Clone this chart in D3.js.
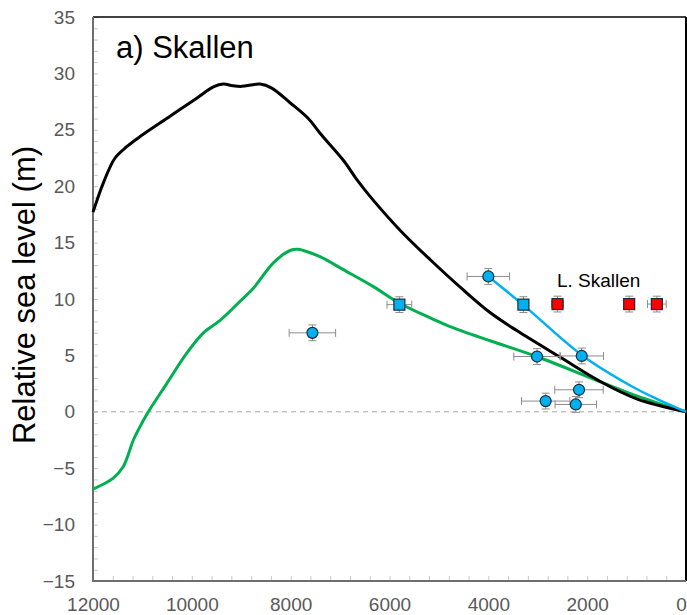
<!DOCTYPE html>
<html>
<head>
<meta charset="utf-8">
<script src="https://cdn.jsdelivr.net/npm/d3@7"></script>
<style>
    body { margin: 0; background: #fff; }
    svg { font-family: "Liberation Sans", Arial, sans-serif; }
</style>
</head>
<body>
<svg id="chart" width="687" height="615"></svg>
<script>
//Model curves (year BP, sea level m)
let blackYears = [12000, 11790, 11554, 11318, 11048, 10441, 9901, 9564, 9362, 9170, 8990, 8620, 8383, 8013, 7643, 7406, 6934, 6664, 6394, 5787, 5180, 4506, 3966, 3425, 2550, 1740, 998, 0];
let blackLevel = [17.7, 20.3, 22.5, 23.5, 24.4, 26.2, 27.8, 28.8, 29.05, 28.9, 28.85, 29.05, 28.7, 27.4, 26.0, 24.7, 22.3, 20.6, 19.1, 16.1, 13.5, 10.8, 8.8, 7.2, 4.85, 2.7, 1.15, 0];

let greenYears = [12000, 11596, 11392, 11183, 11082, 10880, 10508, 10103, 9766, 9429, 9024, 8755, 8350, 8013, 7845, 7744, 7406, 6934, 6327, 5787, 5113, 4775, 3966, 3021, 1740, 930, 0];
let greenLevel = [-6.85, -5.9, -4.9, -2.5, -1.6, 0, 2.5, 5.2, 7.0, 8.1, 9.8, 10.95, 13.2, 14.3, 14.4, 14.3, 13.75, 12.6, 11.1, 9.6, 8.2, 7.55, 6.3, 4.9, 2.67, 1.3, 0];

let blueYears = [4000, 3300, 2100, 1072, 593, 0];
let blueLevel = [12.0, 9.5, 5.0, 2.2, 1.15, 0];

//Observations: age, level, age error
let circleAge = [7560, 4000, 3015, 2110, 2165, 2840, 2230];
let circleLevel = [7.0, 12.0, 4.9, 4.95, 1.95, 0.95, 0.65];
let circleAgeErr = [470, 430, 470, 440, 490, 490, 420];

let blueSqAge = [5800, 3290];
let blueSqLevel = [9.5, 9.5];
let blueSqAgeErr = [250, 100];

let redSqAge = [2600, 1150, 590];
let redSqLevel = [9.55, 9.55, 9.55];
let redSqAgeErr = [120, 100, 190];

let levelErr = 0.7;

let xTicks = [12000, 10000, 8000, 6000, 4000, 2000, 0];
let yTicks = [35, 30, 25, 20, 15, 10, 5, 0, -5, -10, -15];

//Plot area
let plotLeft = 93, plotRight = 686, plotTop = 17, plotBottom = 581;
let svg = d3.select("#chart");

let x = d3.scaleLinear().domain([12000, 0]).range([plotLeft, plotRight]);
let y = d3.scaleLinear().domain([-15, 35]).range([plotBottom, plotTop]);

//Minor ticks inside the frame
svg.append("g")
    .attr("transform", "translate(" + plotLeft + ",0)")
    .call(d3.axisRight(y).tickValues(d3.range(-15, 36, 1)).tickSize(5).tickFormat(""))
    .call(g => g.select(".domain").remove())
    .call(g => g.selectAll("line").attr("stroke", "#c8c8c8"));
svg.append("g")
    .attr("transform", "translate(0," + plotBottom + ")")
    .call(d3.axisTop(x).tickValues(d3.range(0, 12001, 400)).tickSize(5).tickFormat(""))
    .call(g => g.select(".domain").remove())
    .call(g => g.selectAll("line").attr("stroke", "#c8c8c8"));

//Tick labels
svg.append("g")
    .attr("transform", "translate(" + plotLeft + ",0)")
    .call(d3.axisLeft(y).tickValues(yTicks).tickSize(0).tickPadding(18).tickFormat(d3.format("d")))
    .call(g => g.select(".domain").remove())
    .call(g => g.selectAll("text").attr("fill", "#595959").attr("font-size", 19)
        .attr("font-family", "Liberation Sans, Arial, sans-serif"));
svg.append("g")
    .attr("transform", "translate(0," + plotBottom + ")")
    .call(d3.axisBottom(x).tickValues(xTicks).tickSize(0).tickPadding(17).tickFormat(d3.format("d")))
    .call(g => g.select(".domain").remove())
    .call(g => g.selectAll("text").attr("fill", "#595959").attr("font-size", 19)
        .attr("font-family", "Liberation Sans, Arial, sans-serif"))
    .call(g => g.selectAll(".tick").filter(d => d === 0).select("text").attr("dx", -5));

//Frame: top and right black, left and bottom gray
svg.append("line").attr("x1", plotLeft).attr("x2", plotRight).attr("y1", plotTop).attr("y2", plotTop)
    .attr("stroke", "#000").attr("stroke-width", 1.5);
svg.append("line").attr("x1", plotRight).attr("x2", plotRight).attr("y1", plotTop).attr("y2", plotBottom)
    .attr("stroke", "#000").attr("stroke-width", 2);
svg.append("line").attr("x1", plotLeft).attr("x2", plotLeft).attr("y1", plotTop).attr("y2", plotBottom + 1)
    .attr("stroke", "#6e6e6e").attr("stroke-width", 2);
svg.append("line").attr("x1", plotLeft - 1).attr("x2", plotRight).attr("y1", plotBottom).attr("y2", plotBottom)
    .attr("stroke", "#6e6e6e").attr("stroke-width", 2);

//Zero line
svg.append("line")
    .attr("x1", plotLeft).attr("x2", plotRight).attr("y1", y(0)).attr("y2", y(0))
    .attr("stroke", "#a6a6a6").attr("stroke-width", 1).attr("stroke-dasharray", "5,4");

//Curves
let line = d3.line()
    .x(d => x(d[0]))
    .y(d => y(d[1]))
    .curve(d3.curveCatmullRom.alpha(0.5));

svg.append("path")
    .datum(d3.zip(greenYears, greenLevel))
    .attr("fill", "none").attr("stroke", "#00b050").attr("stroke-width", 3)
    .attr("d", line);
svg.append("path")
    .datum(d3.zip(blackYears, blackLevel))
    .attr("fill", "none").attr("stroke", "#000").attr("stroke-width", 3)
    .attr("d", line);
svg.append("path")
    .datum(d3.zip(blueYears, blueLevel))
    .attr("fill", "none").attr("stroke", "#00b0f0").attr("stroke-width", 2.5)
    .attr("d", line);

//Error bars
function drawErrors(ages, levels, errs) {
    let g = svg.append("g").attr("stroke", "#8c8c8c").attr("stroke-width", 1);
    ages.forEach((a, i) => {
        let cx = x(a), cy = y(levels[i]);
        let x0 = x(a + errs[i]), x1 = x(a - errs[i]);
        let y0 = y(levels[i] + levelErr), y1 = y(levels[i] - levelErr);
        g.append("line").attr("x1", x0).attr("x2", x1).attr("y1", cy).attr("y2", cy);
        g.append("line").attr("x1", x0).attr("x2", x0).attr("y1", cy - 4).attr("y2", cy + 4);
        g.append("line").attr("x1", x1).attr("x2", x1).attr("y1", cy - 4).attr("y2", cy + 4);
        g.append("line").attr("x1", cx).attr("x2", cx).attr("y1", y0).attr("y2", y1);
        g.append("line").attr("x1", cx - 4).attr("x2", cx + 4).attr("y1", y0).attr("y2", y0);
        g.append("line").attr("x1", cx - 4).attr("x2", cx + 4).attr("y1", y1).attr("y2", y1);
    });
}
drawErrors(circleAge, circleLevel, circleAgeErr);
drawErrors(blueSqAge, blueSqLevel, blueSqAgeErr);
drawErrors(redSqAge, redSqLevel, redSqAgeErr);

//Markers
svg.append("g").selectAll("circle")
    .data(d3.zip(circleAge, circleLevel))
    .enter().append("circle")
    .attr("cx", d => x(d[0])).attr("cy", d => y(d[1])).attr("r", 5.5)
    .attr("fill", "#00b0f0").attr("stroke", "#1c2b3a").attr("stroke-width", 1.2);

function drawSquares(ages, levels, color) {
    svg.append("g").selectAll("rect")
        .data(d3.zip(ages, levels))
        .enter().append("rect")
        .attr("x", d => x(d[0]) - 5.5).attr("y", d => y(d[1]) - 5.5)
        .attr("width", 11).attr("height", 11)
        .attr("fill", color).attr("stroke", "#1c2b3a").attr("stroke-width", 1.2);
}
drawSquares(blueSqAge, blueSqLevel, "#00b0f0");
drawSquares(redSqAge, redSqLevel, "#ff0000");

//Labels
svg.append("text")
    .attr("x", 116).attr("y", 58)
    .attr("font-size", 31).attr("fill", "#000")
    .text("a) Skallen");
svg.append("text")
    .attr("x", 557).attr("y", 287)
    .attr("font-size", 19).attr("fill", "#000")
    .text("L. Skallen");
svg.append("text")
    .attr("transform", "translate(35," + ((plotTop + plotBottom) / 2 - 4) + ") rotate(-90)")
    .attr("text-anchor", "middle")
    .attr("font-size", 31).attr("fill", "#000")
    .text("Relative sea level (m)");
</script>
</body>
</html>
